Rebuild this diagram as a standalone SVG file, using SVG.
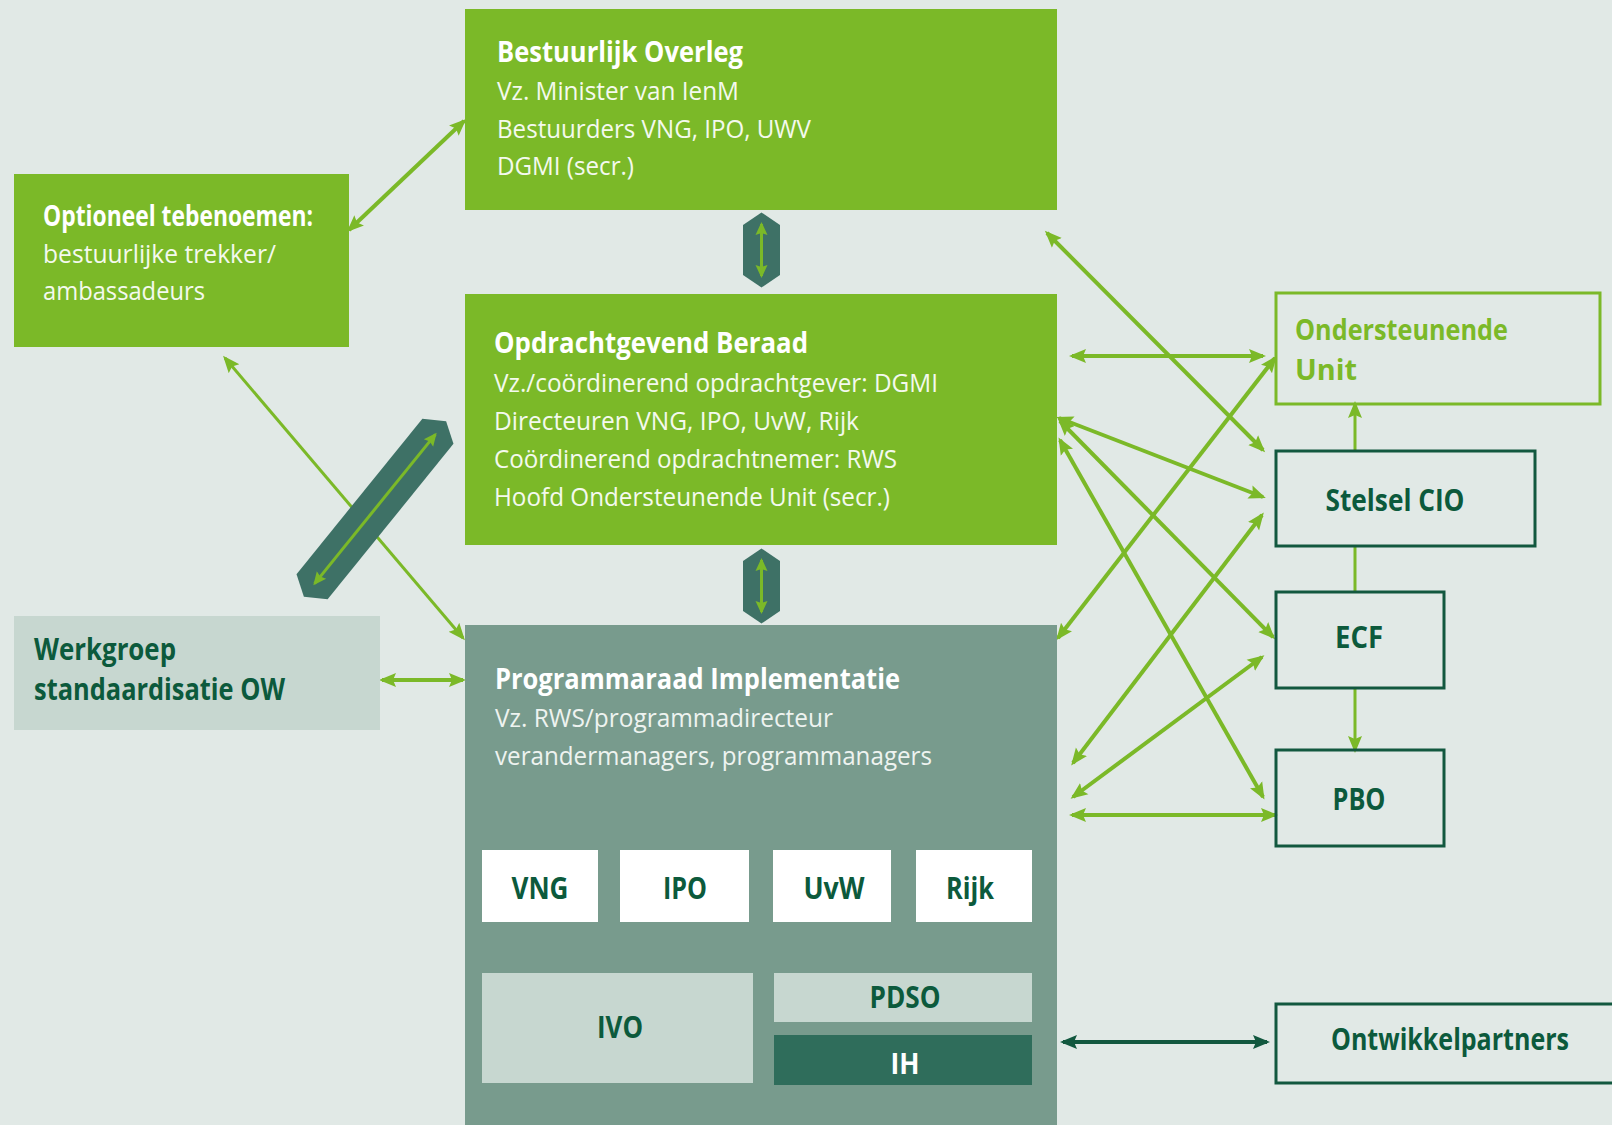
<svg xmlns="http://www.w3.org/2000/svg" width="1612" height="1125" viewBox="0 0 1612 1125">
<style>
text{font-family:"Open Sans","Noto Sans","Liberation Sans",sans-serif}
.t{font-weight:700;font-size:29px;fill:#ffffff}
.b{font-weight:400;font-size:26px;fill:#f4f9ee}
.bp{font-weight:400;font-size:26px;fill:#eef3f0}
.lbl{font-weight:700;font-size:30px;fill:#0c5a3c}
.ou{font-weight:700;font-size:29px;fill:#7bb928}
.green{fill:#7bb928}
.grey{fill:#789b8d}
.light{fill:#c7d7d0}
.white{fill:#ffffff}
.dark{fill:#2f6d5b}
.hex{fill:#3e7166}
.outd{fill:none;stroke:#12583f;stroke-width:3}
.outg{fill:none;stroke:#7bb928;stroke-width:3}
.c{fill:none;stroke:#7bb928;stroke-width:4;marker-start:url(#ag);marker-end:url(#ag)}
.cth{fill:none;stroke:#7bb928;stroke-width:3;marker-start:url(#ag);marker-end:url(#ag)}
.ce{fill:none;stroke:#7bb928;stroke-width:3;marker-end:url(#ag)}
.cp{fill:none;stroke:#7bb928;stroke-width:3}
.cd{fill:none;stroke:#12583f;stroke-width:4;marker-start:url(#ad);marker-end:url(#ad)}
.hx{fill:none;stroke:#7bb928;stroke-width:3;marker-start:url(#as);marker-end:url(#as)}
</style>
<defs>
<marker id="ag" markerUnits="userSpaceOnUse" markerWidth="18" markerHeight="16" refX="14" refY="8" orient="auto-start-reverse" viewBox="0 0 18 16">
<path d="M0,1 L17,8 L0,15 L3,8 z" fill="#7bb928"/>
</marker>
<marker id="ad" markerUnits="userSpaceOnUse" markerWidth="18" markerHeight="16" refX="14" refY="8" orient="auto-start-reverse" viewBox="0 0 18 16">
<path d="M0,1 L17,8 L0,15 L3,8 z" fill="#12583f"/>
</marker>
<marker id="as" markerUnits="userSpaceOnUse" markerWidth="14" markerHeight="14" refX="11" refY="7" orient="auto-start-reverse" viewBox="0 0 14 14">
<path d="M0,1 L13,7 L0,13 L2,7 z" fill="#7bb928"/>
</marker>
</defs>
<rect x="0" y="0" width="1612" height="1125" fill="#e1e9e6"/>

<g id="connectors">
<line class="c" x1="349" y1="230" x2="464" y2="121"/>
<line class="cth" x1="225" y1="358" x2="463" y2="638"/>
<line class="c" x1="382" y1="680" x2="463" y2="680"/>
<line class="c" x1="1072" y1="356" x2="1263" y2="356"/>
<line class="c" x1="1047" y1="233" x2="1263" y2="450"/>
<line class="c" x1="1058" y1="638" x2="1275" y2="358"/>
<line class="c" x1="1059" y1="418" x2="1263" y2="497"/>
<line class="c" x1="1060" y1="421" x2="1273" y2="637"/>
<line class="c" x1="1060" y1="440" x2="1263" y2="797"/>
<line class="c" x1="1073" y1="763" x2="1262" y2="515"/>
<line class="c" x1="1073" y1="797" x2="1262" y2="657"/>
<line class="c" x1="1072" y1="815" x2="1275" y2="815"/>
<line class="cd" x1="1063" y1="1042" x2="1267" y2="1042"/>
<line class="ce" x1="1355" y1="451" x2="1355" y2="404"/>
<line class="cp" x1="1355" y1="546" x2="1355" y2="592"/>
<line class="ce" x1="1355" y1="688" x2="1355" y2="750"/>
</g>

<g id="link-bo-ob" transform="translate(761.5,250)">
<polygon class="hex" points="0,-37.5 18.5,-25 18.5,25 0,37.5 -18.5,25 -18.5,-25"/>
<line class="hx" x1="0" y1="-26" x2="0" y2="26"/>
</g>
<g id="link-ob-pi" transform="translate(761.5,586)">
<polygon class="hex" points="0,-37.5 18.5,-25 18.5,25 0,37.5 -18.5,25 -18.5,-25"/>
<line class="hx" x1="0" y1="-26" x2="0" y2="26"/>
</g>
<g id="link-diagonal" transform="translate(375,509) rotate(39)">
<polygon class="hex" points="0,-113 20,-100 20,100 0,113 -20,100 -20,-100"/>
<line class="hx" x1="0" y1="-96" x2="0" y2="96"/>
</g>

<g id="bestuurlijk-overleg">
<rect class="green" x="465" y="9" width="592" height="201"/>
<text class="t" x="497" y="62" textLength="246" lengthAdjust="spacingAndGlyphs">Bestuurlijk Overleg</text>
<text class="b" x="497" y="100" textLength="242" lengthAdjust="spacingAndGlyphs">Vz. Minister van IenM</text>
<text class="b" x="497" y="138" textLength="314" lengthAdjust="spacingAndGlyphs">Bestuurders VNG, IPO, UWV</text>
<text class="b" x="497" y="175" textLength="137" lengthAdjust="spacingAndGlyphs">DGMI (secr.)</text>
</g>

<g id="optioneel">
<rect class="green" x="14" y="174" width="335" height="173"/>
<text class="t" x="43" y="226" textLength="270" lengthAdjust="spacingAndGlyphs">Optioneel tebenoemen:</text>
<text class="b" x="43" y="263" textLength="233" lengthAdjust="spacingAndGlyphs">bestuurlijke trekker/</text>
<text class="b" x="43" y="300" textLength="162" lengthAdjust="spacingAndGlyphs">ambassadeurs</text>
</g>

<g id="opdrachtgevend-beraad">
<rect class="green" x="465" y="294" width="592" height="251"/>
<text class="t" x="494" y="353" textLength="314" lengthAdjust="spacingAndGlyphs">Opdrachtgevend Beraad</text>
<text class="b" x="494" y="392" textLength="444" lengthAdjust="spacingAndGlyphs">Vz./coördinerend opdrachtgever: DGMI</text>
<text class="b" x="494" y="430" textLength="365" lengthAdjust="spacingAndGlyphs">Directeuren VNG, IPO, UvW, Rijk</text>
<text class="b" x="494" y="468" textLength="403" lengthAdjust="spacingAndGlyphs">Coördinerend opdrachtnemer: RWS</text>
<text class="b" x="494" y="506" textLength="396" lengthAdjust="spacingAndGlyphs">Hoofd Ondersteunende Unit (secr.)</text>
</g>

<g id="werkgroep">
<rect class="light" x="14" y="616" width="366" height="114"/>
<text class="lbl" x="34" y="660" textLength="142" lengthAdjust="spacingAndGlyphs">Werkgroep</text>
<text class="lbl" x="34" y="700" textLength="251" lengthAdjust="spacingAndGlyphs">standaardisatie OW</text>
</g>

<g id="programmaraad">
<rect class="grey" x="465" y="625" width="592" height="500"/>
<text class="t" x="495" y="689" textLength="405" lengthAdjust="spacingAndGlyphs">Programmaraad Implementatie</text>
<text class="bp" x="495" y="727" textLength="338" lengthAdjust="spacingAndGlyphs">Vz. RWS/programmadirecteur</text>
<text class="bp" x="495" y="765" textLength="437" lengthAdjust="spacingAndGlyphs">verandermanagers, programmanagers</text>
</g>

<g id="vng">
<rect class="white" x="482" y="850" width="116" height="72"/>
<text class="lbl" x="540" y="899" text-anchor="middle" textLength="57" lengthAdjust="spacingAndGlyphs">VNG</text>
</g>
<g id="ipo">
<rect class="white" x="620" y="850" width="129" height="72"/>
<text class="lbl" x="685" y="899" text-anchor="middle" textLength="44" lengthAdjust="spacingAndGlyphs">IPO</text>
</g>
<g id="uvw">
<rect class="white" x="773" y="850" width="118" height="72"/>
<text class="lbl" x="834" y="899" text-anchor="middle" textLength="61" lengthAdjust="spacingAndGlyphs">UvW</text>
</g>
<g id="rijk">
<rect class="white" x="916" y="850" width="116" height="72"/>
<text class="lbl" x="970" y="899" text-anchor="middle" textLength="48" lengthAdjust="spacingAndGlyphs">Rijk</text>
</g>
<g id="ivo">
<rect class="light" x="482" y="973" width="271" height="110"/>
<text class="lbl" x="620" y="1038" text-anchor="middle" textLength="46" lengthAdjust="spacingAndGlyphs">IVO</text>
</g>
<g id="pdso">
<rect class="light" x="774" y="973" width="258" height="49"/>
<text class="lbl" x="905" y="1008" text-anchor="middle" textLength="71" lengthAdjust="spacingAndGlyphs">PDSO</text>
</g>
<g id="ih">
<rect class="dark" x="774" y="1035" width="258" height="50"/>
<text class="t" x="905" y="1074" text-anchor="middle" font-size="30" textLength="29" lengthAdjust="spacingAndGlyphs">IH</text>
</g>

<g id="ondersteunende-unit">
<rect class="outg" x="1276" y="293" width="324" height="111"/>
<text class="ou" x="1295" y="340" textLength="213" lengthAdjust="spacingAndGlyphs">Ondersteunende</text>
<text class="ou" x="1295" y="380" textLength="62" lengthAdjust="spacingAndGlyphs">Unit</text>
</g>
<g id="stelsel-cio">
<rect class="outd" x="1276" y="451" width="259" height="95"/>
<text class="lbl" x="1395" y="511" text-anchor="middle" textLength="139" lengthAdjust="spacingAndGlyphs">Stelsel CIO</text>
</g>
<g id="ecf">
<rect class="outd" x="1276" y="592" width="168" height="96"/>
<text class="lbl" x="1359" y="648" text-anchor="middle" textLength="48" lengthAdjust="spacingAndGlyphs">ECF</text>
</g>
<g id="pbo">
<rect class="outd" x="1276" y="750" width="168" height="96"/>
<text class="lbl" x="1359" y="810" text-anchor="middle" textLength="53" lengthAdjust="spacingAndGlyphs">PBO</text>
</g>
<g id="ontwikkelpartners">
<path class="outd" d="M1612,1004 H1276 V1083 H1612"/>
<text class="lbl" x="1450" y="1050" text-anchor="middle" textLength="238" lengthAdjust="spacingAndGlyphs">Ontwikkelpartners</text>
</g>
</svg>
